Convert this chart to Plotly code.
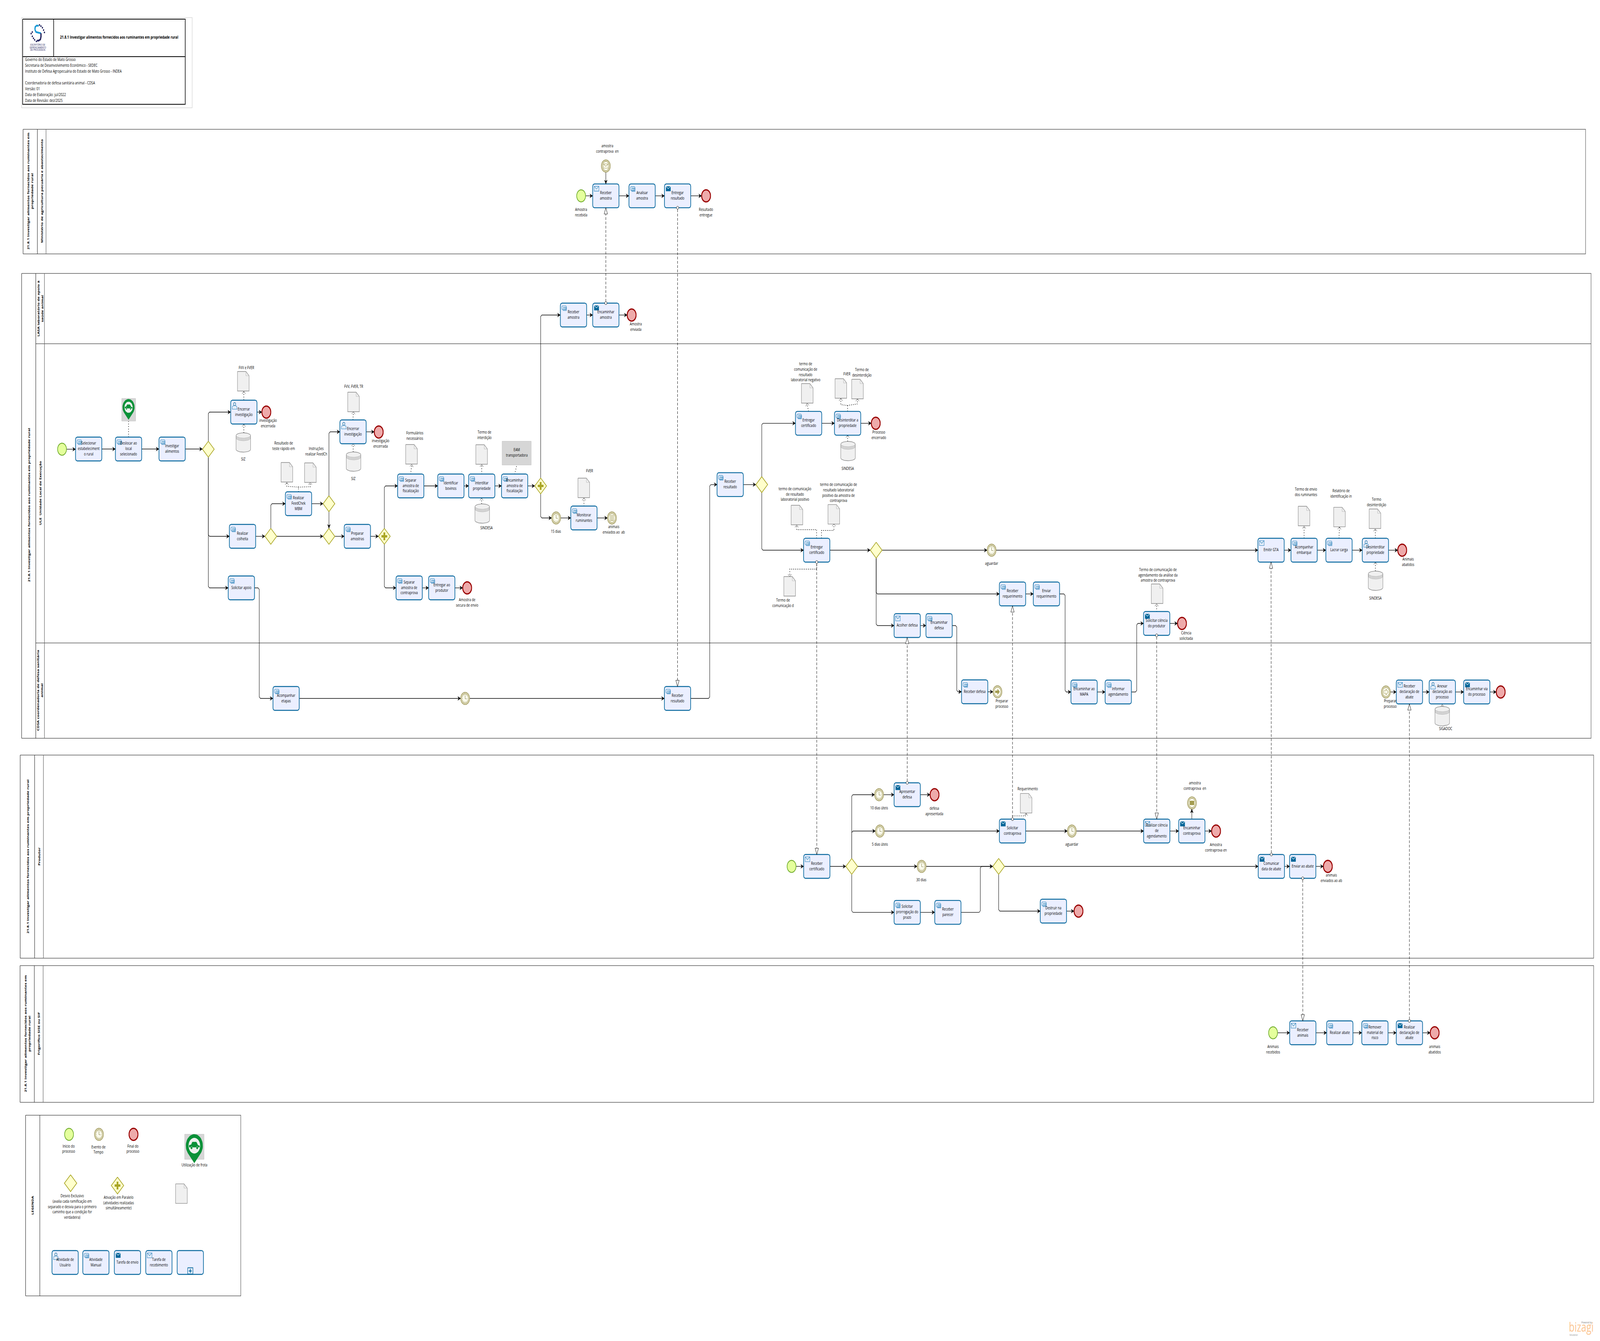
import math
import plotly.graph_objects as go

# ---------- diagram data ----------
TITLE = "21.8.1 Investigar alimentos fornecidos aos ruminantes em propriedade rural"
INFO_LINES = [(153, "Governo do Estado de Mato Grosso"),
              (168, "Secretaria de Desenvolvimento Econômico - SEDEC"),
              (183, "Instituto de Defesa Agropecuária do Estado de Mato Grosso - INDEA"),
              (213, "Coordenadoria de defesa sanitária animal - CDSA"),
              (228, "Versão: 01"),
              (243, "Data de Elaboração: jul/2022"),
              (258, "Data de Revisão: dez/2025")]

# x0, y0, x1, y1, header divider 1, header divider 2 (None when absent)
POOLS = [(80, 331, 5495, 650, 129.5, 159.5),
         (75, 700, 5514, 1890, 124, 154),
         (70, 1933, 5523, 2453, 120, 150.5),
         (69.5, 2472, 5523, 2822, 119, 149.5),
         (88.7, 2855, 834.5, 3317.6, 138, None)]
LANE_LINES = [880, 1646]
LANE_X = (124, 5514)

ROT_LABELS = [(105, 489, "21.8.1 Investigar alimentos fornecidos aos ruminantes em<br>propriedade rural"),
              (145, 489, "Ministério de agricultura pecuária e abastecimento"),
              (100, 1293, TITLE),
              (139.5, 790, "LASA laboratório de apoio à<br>saúde animal"),
              (139.5, 1263, "ULE  Unidade Local de Execução"),
              (139, 1768, "CDSA coordenadoria de defesa sanitária<br>animal"),
              (96, 2193, TITLE),
              (135, 2193, "Produtor"),
              (95, 2646, "21.8.1 Investigar alimentos fornecidos aos ruminantes em<br>propriedade rural"),
              (134.7, 2646, "Frigorífico SISE ou SIF"),
              (112.8, 3085, "LEGENDA")]

# id, centre x, centre y, label, icon (m manual, u user, s send, r receive, n none)
TASKS = [
    ("sel", 307.3, 1149.5, "Selecionar<br>estabeleciment<br>o rural", "m"),
    ("des", 445.5, 1149.5, "Deslocar ao<br>local<br>selecionado", "m"),
    ("inv", 596.5, 1149.5, "Investigar<br>alimentos", "m"),
    ("enc1", 845, 1055, "Encerrar<br>investigação", "u"),
    ("col", 840.5, 1373, "Realizar<br>colheita", "m"),
    ("feed", 1034.5, 1289.5, "Realizar<br>FeedChek<br>MBM", "m"),
    ("apo", 836.5, 1505, "Solicitar apoio", "m"),
    ("aco", 991.5, 1788, "Acompanhar<br>etapas", "m"),
    ("enc2", 1223.5, 1105.5, "Encerrar<br>investigação", "u"),
    ("pre", 1238.5, 1373, "Preparar<br>amostras", "m"),
    ("sep1", 1423.5, 1244, "Separar<br>amostra de<br>fiscalização", "m"),
    ("ide", 1562.5, 1244, "Identificar<br>bovinos", "m"),
    ("int", 1669.5, 1244, "Interditar<br>propriedade", "m"),
    ("ena", 1783.5, 1244, "Encaminhar<br>amostra de<br>fiscalização", "m"),
    ("sep2", 1418, 1505, "Separar<br>amostra de<br>contraprova", "m"),
    ("ent", 1531, 1505, "Entregar ao<br>produtor", "m"),
    ("rec1", 1987.5, 806.5, "Receber<br>amostra", "m"),
    ("enc3", 2099.6, 806.5, "Encaminhar<br>amostra", "s"),
    ("mon", 2023.7, 1326, "Monitorar<br>ruminantes", "m"),
    ("rcp", 2099.6, 501.4, "Receber<br>amostra", "r"),
    ("ana", 2225.3, 501.4, "Analisar<br>amostra", "m"),
    ("erp", 2348.3, 501.4, "Entregar<br>resultado", "s"),
    ("rrc", 2348, 1788, "Receber<br>resultado", "m"),
    ("rr2", 2530.5, 1240.6, "Receber<br>resultado", "m"),
    ("ec1", 2802.3, 1083.6, "Entregar<br>certificado", "m"),
    ("dsi", 2937.5, 1083.6, "Desinterditar a<br>propriedade", "m"),
    ("ec2", 2830.4, 1408.5, "Entregar<br>certificado", "m"),
    ("aco2", 3144, 1601.5, "Acolher defesa", "r"),
    ("end2", 3254.5, 1601.5, "Encaminhar<br>defesa", "m"),
    ("rde", 3377.8, 1771, "Receber defesa", "m"),
    ("rrq", 3509, 1520.5, "Receber<br>requerimento", "m"),
    ("erq", 3626.6, 1520.5, "Enviar<br>requerimento", "m"),
    ("map", 3757, 1771.5, "Encaminhar ao<br>MAPA", "m"),
    ("iag", 3875.5, 1771.5, "Informar<br>agendamento", "m"),
    ("sci", 4008.6, 1596, "Solicitar ciência<br>do produtor", "s"),
    ("gta", 4405, 1408.5, "Emitir GTA", "r"),
    ("aem", 4519.5, 1408.5, "Acompanhar<br>embarque", "m"),
    ("lac", 4640.5, 1408.5, "Lacrar carga", "m"),
    ("dsp", 4766.6, 1408.5, "Desinterditar<br>propriedade", "u"),
    ("rda", 4884.5, 1771.5, "Receber<br>declaração de<br>abate", "r"),
    ("ane", 4998.4, 1771.5, "Anexar<br>declaração ao<br>processo", "u"),
    ("evp", 5118, 1771.5, "Encaminhar via<br>do processo", "s"),
    ("rce", 2830.7, 2218, "Receber<br>certificado", "r"),
    ("apd", 3144, 2034.5, "Apresentar<br>defesa", "s"),
    ("scp", 3509, 2127.5, "Solicitar<br>contraprova", "s"),
    ("spp", 3144, 2335.6, "Solicitar<br>prorrogação do<br>prazo", "m"),
    ("rpa", 3285, 2335.6, "Receber<br>parecer", "m"),
    ("dst", 3650.7, 2332.5, "Destruir na<br>propriedade", "m"),
    ("rca", 4008.8, 2127.5, "Realizar ciência<br>de<br>agendamento", "r"),
    ("ecp", 4130.4, 2127.5, "Encaminhar<br>contraprova", "s"),
    ("cda", 4406, 2218, "Comunicar<br>data de abate", "s"),
    ("eab", 4514.7, 2218, "Enviar ao abate", "s"),
    ("ran", 4515, 2644, "Receber<br>animais", "r"),
    ("rab", 4643.3, 2644, "Realizar abate", "m"),
    ("rem", 4765, 2644, "Remover<br>material de<br>risco", "m"),
    ("rdc", 4884.5, 2644, "Realizar<br>declaração de<br>abate", "s"),
    ("L1", 225.7, 3232, "Atividade de<br>Usuário", "u"),
    ("L2", 332.4, 3232, "Atividade<br>Manual", "m"),
    ("L3", 441.7, 3232, "Tarefa de envio", "s"),
    ("L4", 550.7, 3232, "Tarefa de<br>recebimento", "r"),
    ("L5", 659.5, 3232, "", "n"),
]

# id, kind, centre x, centre y
EVENTS = [
    ("s1", "start", 215, 1150), ("e1", "end", 923, 1055), ("e2", "end", 1312.5, 1106),
    ("e3", "end", 1619, 1505), ("e4", "end", 2189, 806.5), ("t1", "timer", 1927.3, 1326),
    ("l1", "list", 2120.7, 1326), ("s2", "start", 2014, 501.4), ("e5", "end", 2447, 501.4),
    ("m1", "msg", 2099.6, 425), ("t2", "timer", 1612, 1788), ("e6", "end", 3035, 1083.6),
    ("t3", "timer", 3436.5, 1408.5), ("k1", "linkthrow", 3456.8, 1771), ("e7", "end", 4096.3, 1596),
    ("e8", "end", 4859.5, 1408.5), ("k2", "linkcatch", 4803, 1771.5), ("e9", "end", 5200.8, 1771.5),
    ("s3", "start", 2743.3, 2218), ("t4", "timer", 3046.5, 2034.5), ("e10", "end", 3238.8, 2034.5),
    ("t5", "timer", 3049.3, 2127.5), ("t6", "timer", 3714.6, 2127.5), ("t7", "timer", 3193.9, 2218),
    ("e11", "end", 3737.7, 2332.5), ("e12", "end", 4214.4, 2127.5), ("m2", "msgfill", 4130.9, 2055.6),
    ("e13", "end", 4601.8, 2218), ("s4", "start", 4412, 2644), ("e14", "end", 4972, 2644),
    ("L6", "start", 239.3, 2904), ("L7", "timer", 343, 2904), ("L8", "end", 462.7, 2904),
]

# id, centre x, centre y, kind
GATEWAYS = [
    ("g1", 722, 1150, "x"), ("g2", 938.6, 1373, "x"), ("g3", 1140, 1289.5, "x"), ("g4", 1140, 1373, "x"),
    ("p1", 1332, 1373, "+"), ("p2", 1873.7, 1244, "+"), ("g5", 2640, 1240.6, "x"), ("g6", 3036.5, 1408.5, "x"),
    ("g7", 2951.8, 2218, "x"), ("g8", 3461, 2218, "x"), ("L9", 244.6, 3029, "x"), ("L10", 407.2, 3035, "+"),
]

# left, top of each document icon
DOCS = [(823, 951), (974, 1184), (1055.5, 1185), (1205, 1004), (1406, 1138), (1649, 1138.5), (2003, 1224),
        (2777.5, 982), (2894, 969.5), (2951.6, 971), (2741.7, 1293.5), (2869.5, 1291.6), (2716.5, 1476),
        (3990, 1495), (4499, 1296), (4622, 1298.6), (4745, 1303), (3536, 2031.4), (608.6, 3030.7)]
# left, top of each data store
STORES = [(818, 1108), (1200, 1157), (1646, 1290), (2913.7, 1130), (4742, 1462), (4973, 1808.6)]
# gray annotation boxes: x0, y0, x1, y1
GRAY_BOXES = [(1740, 1129.5, 1841, 1190.5), (422, 1020, 470, 1078), (640, 2903.6, 707, 2968)]
# pin centre x, centre y, radius
PINS = [(445.5, 1042.6, 21), (673.5, 2933, 29.5)]

# centre x, centre y of a text block, text
LABELS = [
    (854, 942, "FVV e FVER"), (843, 1176.6, "SIZ"), (929, 1084, "investigação<br>encerrada"),
    (983, 1142, "Resultado de<br>teste rápido em"), (1096, 1156, "Instruções<br>realizar FeedCh"),
    (1225.8, 990, "FVV, FVER, TR"), (1224.5, 1226, "SIZ"), (1319, 1136, "investigação<br>encerrada"),
    (1437.5, 1116, "Formulários<br>necessários"), (1679, 1114, "Termo de<br>interdição"),
    (1686, 1352, "SINDESA"), (1791, 1159, "EAM<br>transportadora"), (1926.6, 1361.7, "15 dias"),
    (1619, 1543, "Amostra de<br>secura de envio"),
    (2014, 544, "Amostra<br>recebida"), (2446.6, 544, "Resultado<br>entregue"),
    (2105, 381, "amostra<br>contraprova  en"), (2203.6, 837, "Amostra<br>enviada"),
    (2043, 1206, "FVER"), (2127, 1356, "animais<br>enviados ao  ab"),
    (2792, 953, "termo de<br>comunicação de<br>resultado<br>laboratorial negativo"),
    (2935, 958, "FVER"), (2987, 954, "Termo de<br>desinterdição"), (3045.6, 1114, "Processo<br>encerrado"),
    (2938, 1200, "SINDESA"), (2755, 1266, "termo de comunicação<br>de resultado<br>laboratorial positivo"),
    (2906, 1262, "termo de comunicação de<br>resultado laboratorial<br>positivo da amostra de<br>contraprova"),
    (2713.7, 1544, "Termo de<br>comunicação d"), (3436.5, 1443, "aguardar"),
    (3472, 1802, "Preparar<br>processo"), (4013, 1473, "Termo de comunicação de<br>agendamento da análise da<br>amostra de contraprova"),
    (4111, 1628, "Ciência<br>solicitada"), (4526, 1260, "Termo de envio<br>dos ruminantes"),
    (4647.6, 1264, "Relatório de<br>identificação in"), (4770.6, 1286, "Termo<br>desinterdição"),
    (4880, 1439, "Animais<br>abatidos"), (4766.7, 1532, "SINDESA"), (4818, 1802.5, "Preparar<br>processo"),
    (5010, 1866.5, "SIGADOC"), (3046.5, 2069.3, "10 dias úteis"), (3238, 2077, "defesa<br>apresentada"),
    (3049.3, 2162, "5 dias úteis"), (3561.6, 2020.5, "Requerimento"), (3714.6, 2162.6, "aguardar"),
    (3193, 2253.5, "30 dias"), (4141, 2012.5, "amostra<br>contraprova  en"), (4214, 2170, "Amostra<br>contraprova en"),
    (4614, 2248.5, "animais<br>enviados ao ab"), (4412, 2687.5, "Animais<br>recebidos"), (4972, 2687.5, "animais<br>abatidos"),
    (237.8, 2941.8, "Início do<br>processo"), (341.3, 2943.8, "Evento de<br>Tempo"), (460.6, 2941.8, "Final do<br>processo"),
    (674, 2983, "Utilização de frota"),
    (250.3, 3090, "Desvio Exclusivo<br>(avalia cada ramificação em<br>separado e desvia para o primeiro<br>caminho que a condição for<br>verdadeira)"),
    (411, 3080, "Ativação em Paralelo<br>(atividades realizadas<br>simultâneamente)"),
]

# sequence flows: from, to, route (s straight, vh, v, hvh), bend x
FLOWS = [
    ("s1", "sel", "s"), ("sel", "des", "s"), ("des", "inv", "s"), ("inv", "g1", "s"), ("g1", "enc1", "vh"),
    ("g1", "col", "vh"), ("g1", "apo", "vh"), ("enc1", "e1", "s"), ("col", "g2", "s"), ("g2", "g4", "s"),
    ("g2", "feed", "vh"), ("feed", "g3", "s"), ("g3", "enc2", "vh"), ("g3", "g4", "v"), ("g4", "pre", "s"),
    ("pre", "p1", "s"), ("enc2", "e2", "s"), ("p1", "sep1", "vh"), ("p1", "sep2", "vh"), ("sep2", "ent", "s"),
    ("ent", "e3", "s"), ("sep1", "ide", "s"), ("ide", "int", "s"), ("int", "ena", "s"), ("ena", "p2", "s"),
    ("p2", "rec1", "vh"), ("p2", "t1", "vh"), ("t1", "mon", "s"), ("mon", "l1", "s"), ("rec1", "enc3", "s"),
    ("enc3", "e4", "s"), ("s2", "rcp", "s"), ("rcp", "ana", "s"), ("ana", "erp", "s"), ("erp", "e5", "s"),
    ("m1", "rcp", "v"), ("apo", "aco", "hvh", 898.5), ("aco", "t2", "s"), ("t2", "rrc", "s"),
    ("rrc", "rr2", "hvh", 2459.6), ("rr2", "g5", "s"), ("g5", "ec1", "vh"), ("g5", "ec2", "vh"),
    ("ec1", "dsi", "s"), ("dsi", "e6", "s"), ("ec2", "g6", "s"), ("g6", "t3", "s"), ("t3", "gta", "s"),
    ("g6", "rrq", "vh"), ("g6", "aco2", "vh"), ("aco2", "end2", "s"), ("end2", "rde", "hvh", 3315.8),
    ("rde", "k1", "s"), ("rrq", "erq", "s"), ("erq", "map", "hvh", 3691.3), ("map", "iag", "s"),
    ("iag", "sci", "hvh", 3939.4), ("sci", "e7", "s"), ("gta", "aem", "s"), ("aem", "lac", "s"),
    ("lac", "dsp", "s"), ("dsp", "e8", "s"), ("k2", "rda", "s"), ("rda", "ane", "s"), ("ane", "evp", "s"),
    ("evp", "e9", "s"), ("s3", "rce", "s"), ("rce", "g7", "s"), ("g7", "t4", "vh"), ("g7", "t5", "vh"),
    ("g7", "t7", "s"), ("g7", "spp", "vh"), ("t4", "apd", "s"), ("apd", "e10", "s"), ("t5", "scp", "s"),
    ("scp", "t6", "s"), ("t6", "rca", "s"), ("rca", "ecp", "s"), ("ecp", "e12", "s"), ("ecp", "m2", "v"),
    ("t7", "g8", "s"), ("spp", "rpa", "s"), ("rpa", "g8", "hvh", 3397.4), ("g8", "cda", "s"), ("g8", "dst", "vh"),
    ("dst", "e11", "s"), ("cda", "eab", "s"), ("eab", "e13", "s"), ("s4", "ran", "s"), ("ran", "rab", "s"),
    ("rab", "rem", "s"), ("rem", "rdc", "s"), ("rdc", "e14", "s"),
]
# message flows: source task, target task, source side
MESSAGES = [("enc3", "rcp", "top"), ("erp", "rrc", "bottom"), ("ec2", "rce", "bottom"), ("apd", "aco2", "top"),
            ("scp", "rrq", "top"), ("sci", "rca", "bottom"), ("cda", "gta", "top"), ("eab", "ran", "bottom"),
            ("rdc", "rda", "top")]
# dotted associations (x, y) waypoints; last flag = open head at the end
ASSOC = [
    ([(445.5, 1119), (445.5, 1078)], False),
    ([(845, 1024), (845, 1002)], True), ([(845, 1108), (845, 1086)], True),
    ([(1034.5, 1259), (1034.5, 1247), (994, 1245), (994, 1235)], True),
    ([(1034.5, 1247), (1075, 1246), (1075, 1235)], True),
    ([(1223, 1075), (1225, 1054)], True), ([(1224, 1157), (1224, 1136)], True),
    ([(1423, 1214), (1427, 1189)], True), ([(1669.5, 1214), (1669.5, 1189)], True),
    ([(1669, 1290), (1669, 1275)], True), ([(1783.5, 1214), (1791, 1191)], False),
    ([(2023.7, 1296), (2023.7, 1275)], True), ([(2802, 1053), (2797, 1033)], True),
    ([(2937.5, 1053), (2937, 1038), (2914, 1036), (2914, 1020)], True),
    ([(2937, 1038), (2971.6, 1034), (2971.6, 1021)], True), ([(2937.5, 1130), (2937.5, 1114)], True),
    ([(2830, 1378), (2830, 1356), (2761, 1356), (2761, 1344)], True),
    ([(2847, 1378), (2847, 1358), (2890, 1358), (2890, 1341)], True),
    ([(2830.5, 1439), (2830.5, 1457), (2737, 1457), (2737, 1476)], True),
    ([(4008.6, 1566), (4008.6, 1546)], True), ([(4519.5, 1378), (4519.5, 1347)], True),
    ([(4640.5, 1378), (4642, 1349)], True), ([(4766.6, 1378), (4766, 1354)], True),
    ([(4766.6, 1462), (4766.6, 1439)], True), ([(4998.4, 1808.6), (4998.4, 1803)], True),
    ([(3509, 2097), (3509, 2088.6), (3556, 2088.6), (3556, 2082)], True),
]

# ---------- helpers ----------
FONT = "Open Sans"
TASK_HW, TASK_HH, EV_R, GW_R = 45.5, 30.5, 15.5, 20.4
nodes = {}
for t in TASKS:
    nodes[t[0]] = (t[1], t[2], TASK_HW, TASK_HH)
for e in EVENTS:
    nodes[e[0]] = (e[2], e[3], EV_R, EV_R)
for g in GATEWAYS:
    nodes[g[0]] = (g[1], g[2], GW_R, GW_R)


class Layer:
    def __init__(self):
        self.x, self.y = [], []

    def add(self, pts):
        for p in pts:
            self.x.append(p[0])
            self.y.append(p[1])
        self.x.append(None)
        self.y.append(None)


def circle(cx, cy, r, n=44, ry=None, a0=0, a1=360):
    ry = r if ry is None else ry
    return [(cx + r * math.cos(math.radians(a0 + (a1 - a0) * i / n)),
             cy + ry * math.sin(math.radians(a0 + (a1 - a0) * i / n))) for i in range(n + 1)]


def rrect(x0, y0, x1, y1, r):
    pts = []
    pts += circle(x1 - r, y0 + r, r, 5, a0=-90, a1=0)
    pts += circle(x1 - r, y1 - r, r, 5, a0=0, a1=90)
    pts += circle(x0 + r, y1 - r, r, 5, a0=90, a1=180)
    pts += circle(x0 + r, y0 + r, r, 5, a0=180, a1=270)
    pts.append(pts[0])
    return pts


def rect(x0, y0, x1, y1):
    return [(x0, y0), (x1, y0), (x1, y1), (x0, y1), (x0, y0)]


def chamfer(pts, c=4):
    out = [pts[0]]
    for i in range(1, len(pts) - 1):
        p, q, r = pts[i - 1], pts[i], pts[i + 1]
        d1, d2 = math.dist(p, q), math.dist(q, r)
        if d1 < 2 * c or d2 < 2 * c:
            out.append(q)
            continue
        out.append((q[0] + (p[0] - q[0]) * c / d1, q[1] + (p[1] - q[1]) * c / d1))
        out.append((q[0] + (r[0] - q[0]) * c / d2, q[1] + (r[1] - q[1]) * c / d2))
    out.append(pts[-1])
    return out


fig = go.Figure()


def lines(layer, color, width, dash=None):
    fig.add_trace(go.Scatter(x=layer.x, y=layer.y, mode="lines", hoverinfo="skip", showlegend=False,
                             line=dict(color=color, width=width, dash=dash)))


def filled(layer, fill, color=None, width=0):
    fig.add_trace(go.Scatter(x=layer.x, y=layer.y, mode="lines", fill="toself", fillcolor=fill, hoverinfo="skip",
                             showlegend=False, line=dict(color=color or fill, width=width)))


def texts(items, size, color="#000000", family=FONT, pos="middle center"):
    fig.add_trace(go.Scatter(x=[i[0] for i in items], y=[i[1] for i in items], text=[i[2] for i in items],
                             mode="text", textposition=pos, hoverinfo="skip", showlegend=False,
                             textfont=dict(family=family, size=size, color=color)))


# ---------- frames ----------
white_frame = Layer(); white_frame.add(rect(75, 45, 666, 276)); lines(white_frame, "#c4c4c4", 1.2)
head = Layer()
head.add(rect(78.5, 49, 642, 267)); head.add([(186, 49), (186, 145)]); head.add([(78.5, 145), (642, 145)])
lines(head, "#000000", 2)

pool_lay, pool_left = Layer(), Layer()
for x0, y0, x1, y1, d1, d2 in POOLS:
    pool_lay.add([(x0, y0), (x1, y0), (x1, y1), (x0, y1)])
    pool_left.add([(x0, y0), (x0, y1)])
    pool_left.add([(d1, y0), (d1, y1)])
    if d2:
        pool_lay.add([(d2, y0), (d2, y1)])
for y in LANE_LINES:
    pool_lay.add([(LANE_X[0], y), (LANE_X[1], y)])
lines(pool_lay, "#5a5a5a", 1.5)
lines(pool_left, "#202020", 1.4)

# ---------- logo ----------
lb, ld = Layer(), Layer()
lb.add([(121, 76), (122, 69), (127, 65.5), (134, 66)])
lb.add([(121, 76), (125, 82), (135, 84), (142, 85)])
ld.add([(142, 85), (142, 94), (140, 101), (134, 104), (128, 104)])
lines(lb, "#1b9ad6", 4.5)
lines(ld, "#27275f", 4.5)
teeth = Layer()
for x, y in [(137, 64), (142, 67), (147, 71), (151, 77), (154, 83), (112, 82), (108, 86), (112, 93), (116, 98), (120, 102), (126, 106)]:
    teeth.add(rect(x - 2, y - 2, x + 2, y + 2))
filled(teeth, "#27275f")
texts([(131, 115, "ESCRITÓRIO DE"), (131, 122, "GERENCIAMENTO"), (131, 128, "DE PROCESSOS")], 6.5, "#27275f", "Liberation Sans")

# ---------- sequence flows ----------
flow_l, head_l = Layer(), Layer()


def arrow(layer, p, q, length=10, half=5):
    dx, dy = q[0] - p[0], q[1] - p[1]
    n = math.hypot(dx, dy) or 1
    ux, uy = dx / n, dy / n
    b = (q[0] - ux * length, q[1] - uy * length)
    nt = (q[0] - ux * length * 0.7, q[1] - uy * length * 0.7)
    layer.add([q, (b[0] - uy * half, b[1] + ux * half), nt, (b[0] + uy * half, b[1] - ux * half), q])


for f in FLOWS:
    a, b = nodes[f[0]], nodes[f[1]]
    kind = f[2]
    if kind == "s":
        pts = [(a[0] + a[2], a[1]), (b[0] - b[2], a[1])]
    elif kind == "vh":
        sy = a[1] - a[3] if b[1] < a[1] else a[1] + a[3]
        pts = [(a[0], sy), (a[0], b[1]), (b[0] - b[2], b[1])]
    elif kind == "v":
        if b[1] > a[1]:
            pts = [(a[0], a[1] + a[3]), (a[0], b[1] - b[3])]
        else:
            pts = [(a[0], a[1] - a[3]), (a[0], b[1] + b[3])]
    else:
        xm = f[3]
        pts = [(a[0] + a[2], a[1]), (xm, a[1]), (xm, b[1]), (b[0] - b[2], b[1])]
    flow_l.add(chamfer(pts))
    arrow(head_l, pts[-2], pts[-1])
lines(flow_l, "#000000", 1.3)

# ---------- message flows ----------
msg_l, msg_head, msg_dot = Layer(), Layer(), Layer()
for src, dst, side in MESSAGES:
    a, b = nodes[src], nodes[dst]
    if side == "top":
        p, q = (a[0], a[1] - a[3]), (b[0], b[1] + b[3])
        sgn = 1
    else:
        p, q = (a[0], a[1] + a[3]), (b[0], b[1] - b[3])
        sgn = -1
    msg_l.add([(p[0], p[1] - sgn * 4), (q[0], q[1] + sgn * 16)])
    msg_head.add([q, (q[0] - 5.8, q[1] + sgn * 16), (q[0] + 5.8, q[1] + sgn * 16), q])
    msg_dot.add(circle(p[0], p[1], 4, 16))
lines(msg_l, "#000000", 1.2, "7px,4px")

# ---------- associations ----------
as_l, as_h = Layer(), Layer()
for pts, h in ASSOC:
    as_l.add(pts)
    if h:
        p, q = pts[-2], pts[-1]
        dx, dy = q[0] - p[0], q[1] - p[1]
        n = math.hypot(dx, dy) or 1
        ux, uy = dx / n, dy / n
        as_h.add([(q[0] - ux * 6 - uy * 6, q[1] - uy * 6 + ux * 6), q, (q[0] - ux * 6 + uy * 6, q[1] - uy * 6 - ux * 6)])
lines(as_l, "#000000", 1.8, "2px,4.5px")
lines(as_h, "#333333", 0.9)

# ---------- gray boxes, documents, stores ----------
gb = Layer()
for b in GRAY_BOXES:
    gb.add(rect(*b))
filled(gb, "#d6d6d6", "#c4c4c4", 1)

doc_l, fold_l = Layer(), Layer()
for x, y in DOCS:
    w, h, f = 40.3, 50, 11
    doc_l.add([(x, y), (x + w - f, y), (x + w, y + f), (x + w, y + h), (x, y + h), (x, y)])
    fold_l.add([(x + w - f, y), (x + w - f, y + f), (x + w, y + f)])
filled(doc_l, "#f0f0f0", "#868686", 1.3)
lines(fold_l, "#b0b0b0", 0.9)

st_l, st_a = Layer(), Layer()
for x, y in STORES:
    w, h, ry = 50.5, 49.5, 7
    cx = x + w / 2
    pts = circle(cx, y + ry, w / 2, 20, ry=ry, a0=180, a1=360) + circle(cx, y + h - ry, w / 2, 20, ry=ry, a0=0, a1=180)
    pts.append(pts[0])
    st_l.add(pts)
    for off in (ry, ry + 3, ry + 6):
        st_a.add(circle(cx, y + off, w / 2, 20, ry=ry, a0=0, a1=180))
filled(st_l, "#f0f0f0", "#868686", 1.3)
lines(st_a, "#868686", 1)

# ---------- pins ----------
pin_o, pin_i, car, wheel = Layer(), Layer(), Layer(), Layer()
for cx, cy, r in PINS:
    tip = cy + r * 1.52
    pin_o.add(circle(cx, cy, r, 30, a0=140, a1=400) + [(cx, tip), (cx + r * math.cos(math.radians(140)), cy + r * math.sin(math.radians(140)))])
    pin_i.add(circle(cx, cy, r * 0.68, 30))
    s = r / 21
    car.add([(cx - 13 * s, cy + 3 * s), (cx - 13 * s, cy - 1 * s), (cx - 8 * s, cy - 2 * s), (cx - 5 * s, cy - 7 * s),
             (cx + 5 * s, cy - 7 * s), (cx + 9 * s, cy - 1 * s), (cx + 13 * s, cy), (cx + 13 * s, cy + 3 * s), (cx - 13 * s, cy + 3 * s)])
    wheel.add(circle(cx - 7 * s, cy + 4 * s, 2.6 * s, 12))
    wheel.add(circle(cx + 7 * s, cy + 4 * s, 2.6 * s, 12))
filled(pin_o, "#0a9138")
filled(pin_i, "#eef1ee")
filled(car, "#0a9138")
filled(wheel, "#0a9138", "#eef1ee", 0.8)

# ---------- gateways ----------
gw_l, plus = Layer(), Layer()
for gid, cx, cy, kind in GATEWAYS:
    r = 21.5 if gid in ("L9", "L10") else GW_R
    gw_l.add([(cx, cy - r), (cx + r, cy), (cx, cy + r), (cx - r, cy), (cx, cy - r)])
    if kind == "+":
        a, b = 10, 3
        plus.add([(cx - b, cy - a), (cx + b, cy - a), (cx + b, cy - b), (cx + a, cy - b), (cx + a, cy + b), (cx + b, cy + b),
                  (cx + b, cy + a), (cx - b, cy + a), (cx - b, cy + b), (cx - a, cy + b), (cx - a, cy - b), (cx - b, cy - b), (cx - b, cy - a)])
filled(gw_l, "#ffffcc", "#a9a525", 2)
filled(plus, "#a9a525")

# ---------- events ----------
ev_s, ev_e, ev_o, ev_i, ev_tick, ev_hand, ev_env, ev_envv, ev_fill = Layer(), Layer(), Layer(), Layer(), Layer(), Layer(), Layer(), Layer(), Layer()
for eid, kind, cx, cy in EVENTS:
    if kind == "start":
        ev_s.add(circle(cx, cy, EV_R))
    elif kind == "end":
        ev_e.add(circle(cx, cy, EV_R))
    else:
        ev_o.add(circle(cx, cy, EV_R))
        ev_i.add(circle(cx, cy, 12))
        if kind == "timer":
            for k in range(12):
                a = math.radians(k * 30)
                ev_tick.add([(cx + 7.5 * math.cos(a), cy + 7.5 * math.sin(a)), (cx + 10 * math.cos(a), cy + 10 * math.sin(a))])
            ev_hand.add([(cx, cy - 7), (cx, cy + 1), (cx + 6, cy + 1)])
        elif kind == "msg":
            ev_env.add(rect(cx - 8, cy - 5.5, cx + 8, cy + 5.5))
            ev_envv.add([(cx - 8, cy - 5.5), (cx, cy + 1), (cx + 8, cy - 5.5)])
        elif kind == "msgfill":
            ev_fill.add(rect(cx - 8, cy - 5.5, cx + 8, cy + 5.5))
        elif kind == "list":
            ev_env.add(rect(cx - 6, cy - 7, cx + 6, cy + 7))
            for d in (-4, -1, 2, 5):
                ev_envv.add([(cx - 4, cy + d), (cx + 4, cy + d)])
        elif kind in ("linkthrow", "linkcatch"):
            arrow_pts = [(cx - 8, cy - 3), (cx, cy - 3), (cx, cy - 8), (cx + 8, cy), (cx, cy + 8), (cx, cy + 3), (cx - 8, cy + 3), (cx - 8, cy - 3)]
            if kind == "linkthrow":
                ev_fill.add(arrow_pts)
            else:
                ev_env.add(arrow_pts)
filled(ev_s, "#e4ff9c", "#6eab2a", 2.2)
filled(ev_e, "#eeaaaa", "#990000", 3.2)
filled(ev_o, "#f7f5dd", "#a39c62", 2.2)
filled(ev_i, "#fdfdf0", "#a39c62", 1.6)
lines(ev_tick, "#a39c62", 1)
lines(ev_hand, "#77733f", 1)
filled(ev_env, "#fdfdf0", "#a39c62", 1.2)
lines(ev_envv, "#a39c62", 1.2)
filled(ev_fill, "#a39c50")

# ---------- tasks and icons ----------
task_l = Layer()
ic_box, ic_line, send_box, send_v, head_c, body_c, sub_box, sub_plus = (Layer() for _ in range(8))
for tid, cx, cy, label, icon in TASKS:
    x0, y0, x1, y1 = cx - TASK_HW, cy - TASK_HH, cx + TASK_HW, cy + TASK_HH
    task_l.add(rrect(x0, y0, x1, y1, 6))
    if icon == "m":
        ic_box.add(rrect(x0 + 5, y0 + 7, x0 + 21, y0 + 17, 3))
        ic_box.add(rect(x0 + 10, y0 + 11, x0 + 21, y0 + 19))
        ic_line.add([(x0 + 13, y0 + 13), (x0 + 21, y0 + 13)])
        ic_line.add([(x0 + 13, y0 + 16), (x0 + 20, y0 + 16)])
    elif icon == "r":
        ic_box.add(rect(x0 + 5, y0 + 6, x0 + 21.5, y0 + 18.5))
        ic_line.add([(x0 + 5, y0 + 6), (x0 + 13, y0 + 13), (x0 + 21.5, y0 + 6)])
    elif icon == "s":
        send_box.add(rect(x0 + 5, y0 + 6, x0 + 21.5, y0 + 18.5))
        send_v.add([(x0 + 5, y0 + 6), (x0 + 13, y0 + 12), (x0 + 21.5, y0 + 6)])
    elif icon == "u":
        body_c.add([(x0 + 5, y0 + 23), (x0 + 6, y0 + 16), (x0 + 10, y0 + 14), (x0 + 17, y0 + 14), (x0 + 21, y0 + 16), (x0 + 22, y0 + 23), (x0 + 5, y0 + 23)])
        head_c.add(circle(x0 + 13.5, y0 + 10, 4, 14))
    elif tid == "L5":
        sub_box.add(rect(cx - 9, y1 - 17, cx + 9, y1 - 1))
        sub_plus.add(rect(cx - 5, y1 - 10, cx + 5, y1 - 7.5))
        sub_plus.add(rect(cx - 1.3, y1 - 14, cx + 1.3, y1 - 4))
filled(task_l, "#ebefff", "#0b6a9f", 2.3)
filled(ic_box, "#e2ecf8", "#2b82bb", 1.2)
lines(ic_line, "#2b82bb", 1.1)
filled(body_c, "#e2ecf8", "#2b82bb", 1.2)
filled(head_c, "#e2ecf8", "#1f6f9f", 1.4)
filled(send_box, "#006699")
lines(send_v, "#ffffff", 1.2)
filled(sub_box, "#e9f0ff", "#0b6a9f", 1.8)
filled(sub_plus, "#0b6a9f")

# arrow heads and message ends above the tasks
filled(head_l, "#0a0a0a", "#0a0a0a", 0.6)
filled(msg_head, "#ffffff", "#000000", 1)
filled(msg_dot, "#ffffff", "#000000", 1)

# ---------- texts ----------
texts([(t[1], t[2], t[3]) for t in TASKS if t[3]] + LABELS, 10.6)
texts([(87, y, s) for y, s in INFO_LINES], 10.6, pos="middle right")
texts([(413, 96, "<b>" + TITLE + "</b>")], 10.8)
texts([(5499, 3386, "<b>Powered by</b>")], 6.5, "#a8a8a8", "Liberation Sans")
texts([(5480, 3401, "bizagi")], 32, "#fbc591", "Open Sans")
texts([(5454, 3418, "Modeler")], 8, "#a8a8a8", "Liberation Sans")

annots = []
for x, y, s in ROT_LABELS:
    annots.append(dict(x=x, y=y, xref="x", yref="y", text="<b>" + s + "</b>", showarrow=False, textangle=-90,
                       font=dict(family=FONT, size=10.4, color="#000000"), xanchor="center", yanchor="middle"))

fig.update_layout(width=5545, height=3433, margin=dict(l=0, r=0, t=0, b=0), paper_bgcolor="white", plot_bgcolor="white",
                  showlegend=False, annotations=annots,
                  xaxis=dict(range=[0, 5545], visible=False, fixedrange=True),
                  yaxis=dict(range=[3433, 0], visible=False, fixedrange=True))
# The browser window may be narrower than the requested 5545 px: fit the whole page to the window.
POST = """
document.documentElement.style.overflow='hidden';
document.body.style.margin='0';
document.body.style.overflow='hidden';
var gd=document.querySelector('.plotly-graph-div');
var sx=window.innerWidth/5545, sy=window.innerHeight/3433;
gd.style.transformOrigin='0 0';
gd.style.transform='scale('+sx+','+sy+')';
"""
fig.write_html("out.html", config={"displayModeBar": False}, post_script=POST)
